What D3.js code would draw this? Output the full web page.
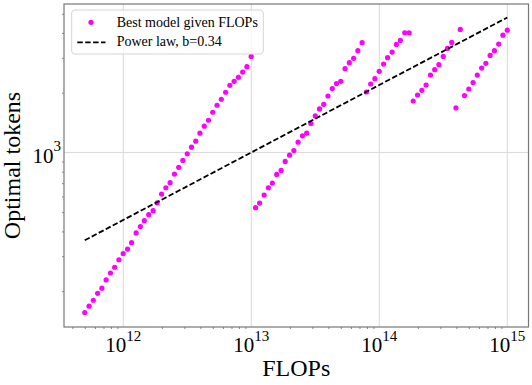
<!DOCTYPE html>
<meta charset="utf-8">
<title>Optimal tokens vs FLOPs</title>
<style>
  body { margin: 0; background: #fff; }
  text { font-family: "Liberation Serif", "DejaVu Serif", serif; fill: #000; }
</style>
<body>
<script src="https://d3js.org/d3.v7.min.js"></script>
<script>

// best model for each compute budget
var flops = [
  5.00e11, 5.40e11, 5.83e11, 6.30e11, 6.80e11, 7.34e11, 7.93e11, 8.56e11, 9.24e11, 9.98e11,
  1.08e12, 1.16e12, 1.26e12, 1.36e12, 1.46e12, 1.58e12, 1.71e12, 1.84e12, 1.99e12, 2.15e12,
  2.32e12, 2.51e12, 2.71e12, 2.92e12, 3.16e12, 3.41e12, 3.68e12, 3.97e12, 4.29e12, 4.63e12,
  5.00e12, 5.40e12, 5.83e12, 6.30e12, 6.80e12, 7.34e12, 7.93e12, 8.56e12, 9.24e12, 9.98e12,
  1.08e13, 1.16e13, 1.26e13, 1.36e13, 1.46e13, 1.58e13, 1.71e13, 1.84e13, 1.99e13, 2.15e13,
  2.32e13, 2.51e13, 2.71e13, 2.92e13, 3.16e13, 3.41e13, 3.68e13, 3.97e13, 4.29e13, 4.63e13,
  5.00e13, 5.40e13, 5.83e13, 6.30e13, 6.80e13, 7.34e13, 7.93e13, 8.56e13, 9.24e13, 9.98e13,
  1.08e14, 1.16e14, 1.26e14, 1.36e14, 1.46e14, 1.58e14, 1.71e14, 1.84e14, 1.99e14, 2.15e14,
  2.32e14, 2.51e14, 2.71e14, 2.92e14, 3.16e14, 3.41e14, 3.68e14, 3.97e14, 4.29e14, 4.63e14,
  5.00e14, 5.40e14, 5.83e14, 6.30e14, 6.80e14, 7.34e14, 7.93e14, 8.56e14, 9.24e14, 1.00e15
];
var tokens = [
  156, 168, 180, 195, 207, 228, 247, 264, 288, 309,
  326, 351, 393, 423, 453, 486, 509, 558, 617, 664,
  704, 778, 841, 912, 984, 1063, 1140, 1250, 1356, 1453,
  1594, 1729, 1853, 2010, 2179, 2282, 2390, 2541, 2705, 3047,
  527, 556, 610, 664, 701, 775, 812, 901, 969, 1023,
  1126, 1212, 1250, 1399, 1527, 1656, 1748, 1925, 2097, 2222,
  2282, 2643, 2834, 2978, 3255, 3571,
  2016, 2212, 2354, 2562, 2788, 3002, 3202, 3501, 3667, 4009, 4009,
  1816, 1947, 2056, 2186, 2454, 2613, 2768, 3047, 3343, 3584,
  1675, 4165,
  1934, 2087, 2248, 2454, 2662, 2810, 3083, 3255, 3513, 3899, 4132
];

// fitted power law, b = 0.34
var lawFlops = [5e11, 1e15];
var lawTokens = [361, 4786];

var xMajor = [1e12, 1e13, 1e14, 1e15];
var xMajorExp = ["12", "13", "14", "15"];
var yMajor = [1e3];
var yMajorExp = ["3"];

var legendLabels = ["Best model given FLOPs", "Power law, b=0.34"];

var width = 532, height = 385;
var plotL = 64, plotR = 528.5, plotT = 4, plotB = 327;

var x = d3.scaleLog().domain([Math.pow(10, 11.5367), Math.pow(10, 15.1656)]).range([plotL, plotR]);
var y = d3.scaleLog().domain([Math.pow(10, 2.1206), Math.pow(10, 3.7478)]).range([plotB, plotT]);

var svg = d3.select("body").append("svg")
    .attr("width", width)
    .attr("height", height);

// grid at the decades
svg.append("g").selectAll("line").data(xMajor).join("line")
    .attr("x1", d => x(d)).attr("x2", d => x(d))
    .attr("y1", plotT).attr("y2", plotB)
    .attr("stroke", "#d9d9d9").attr("stroke-width", 1);
svg.append("g").selectAll("line").data(yMajor).join("line")
    .attr("x1", plotL).attr("x2", plotR)
    .attr("y1", d => y(d)).attr("y2", d => y(d))
    .attr("stroke", "#d9d9d9").attr("stroke-width", 1);

// minor ticks
var xMinor = x.ticks().filter(d => xMajor.indexOf(d) < 0);
var yMinor = y.ticks().filter(d => yMajor.indexOf(d) < 0);

svg.append("g")
    .attr("transform", "translate(0," + plotB + ")")
    .call(d3.axisBottom(x).tickValues(xMinor).tickSize(2).tickFormat(""))
    .call(g => g.select(".domain").remove())
    .selectAll("line").attr("stroke", "#888");
svg.append("g")
    .attr("transform", "translate(" + plotL + ",0)")
    .call(d3.axisLeft(y).tickValues(yMinor).tickSize(2).tickFormat(""))
    .call(g => g.select(".domain").remove())
    .selectAll("line").attr("stroke", "#888");

// scatter
svg.append("g").selectAll("circle").data(flops).join("circle")
    .attr("cx", d => x(d))
    .attr("cy", (d, i) => y(tokens[i]))
    .attr("r", 2.6)
    .attr("fill", "#ff00ff");

// power law
svg.append("path")
    .datum(lawFlops)
    .attr("d", d3.line().x(d => x(d)).y((d, i) => y(lawTokens[i])))
    .attr("fill", "none")
    .attr("stroke", "#000")
    .attr("stroke-width", 1.8)
    .attr("stroke-dasharray", "5.5,2.4");

// frame
svg.append("rect")
    .attr("x", plotL).attr("y", plotT)
    .attr("width", plotR - plotL).attr("height", plotB - plotT)
    .attr("fill", "none").attr("stroke", "#777").attr("stroke-width", 1.2);

// tick labels
var xl = svg.append("g").selectAll("text").data(xMajor).join("text")
    .attr("x", d => x(d)).attr("y", 352)
    .attr("text-anchor", "middle")
    .style("font-size", "21px");
xl.append("tspan").text("10");
xl.append("tspan").attr("dy", -11.5).style("font-size", "15px").text((d, i) => xMajorExp[i]);

var yl = svg.append("g").selectAll("text").data(yMajor).join("text")
    .attr("x", 61).attr("y", d => y(d) + 10.5)
    .attr("text-anchor", "end")
    .style("font-size", "21px");
yl.append("tspan").text("10");
yl.append("tspan").attr("dy", -12).style("font-size", "15px").text((d, i) => yMajorExp[i]);

// axis titles
svg.append("text")
    .attr("x", (plotL + plotR) / 2).attr("y", 376)
    .attr("text-anchor", "middle")
    .style("font-size", "24px")
    .text("FLOPs");
svg.append("text")
    .attr("transform", "translate(19.5," + (plotT + plotB) / 2 + ") rotate(-90)")
    .attr("text-anchor", "middle")
    .style("font-size", "24px")
    .text("Optimal tokens");

// legend
var legend = svg.append("g");
legend.append("rect")
    .attr("x", 71.7).attr("y", 10)
    .attr("width", 191.6).attr("height", 44)
    .attr("rx", 3)
    .attr("fill", "#fff").attr("fill-opacity", 0.8)
    .attr("stroke", "#d4d4d4");
legend.append("circle")
    .attr("cx", 91).attr("cy", 22.3).attr("r", 2.6)
    .attr("fill", "#ff00ff");
legend.append("line")
    .attr("x1", 77.3).attr("x2", 105.5)
    .attr("y1", 42.3).attr("y2", 42.3)
    .attr("stroke", "#000").attr("stroke-width", 1.8)
    .attr("stroke-dasharray", "5.5,2.4");
legend.selectAll("text.lab").data(legendLabels).join("text")
    .attr("class", "lab")
    .attr("x", 116.7).attr("y", (d, i) => 26.7 + i * 19.3)
    .style("font-size", "14px")
    .text(d => d);

</script>
